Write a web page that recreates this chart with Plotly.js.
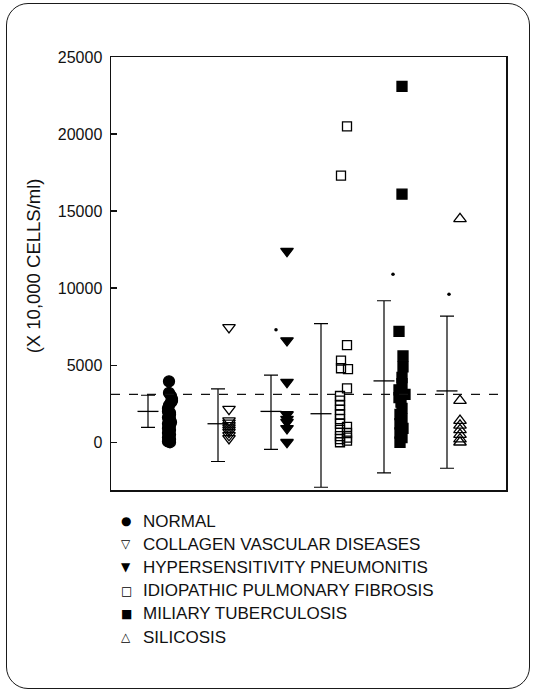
<!DOCTYPE html>
<html>
<head>
<meta charset="utf-8">
<script src="https://cdn.plot.ly/plotly-3.0.1.min.js"></script>
<style>
  html, body { margin: 0; padding: 0; background: #fff; }
  #wrap { position: relative; width: 535px; height: 693px; }
  #chart { position: absolute; left: 0; top: 0; width: 535px; height: 693px; }
  #frame { position: absolute; left: 6px; top: 3px; width: 522px; height: 684px;
           border: 1.6px solid #1a1a1a; border-radius: 22px; pointer-events: none; z-index: 5; }
</style>
</head>
<body>
<div id="wrap">
  <div id="chart"></div>
  <div id="frame"></div>
</div>
<script>
// ---- data (units: x 10,000 cells/ml) ----
const groupNames = ['NORMAL', 'COLLAGEN VASCULAR DISEASES', 'HYPERSENSITIVITY PNEUMONITIS',
                    'IDIOPATHIC PULMONARY FIBROSIS', 'MILIARY TUBERCULOSIS', 'SILICOSIS'];
const legendGlyphs = ['\u25CF', '\u25BD', '\u25BC', '\u25A1', '\u25A0', '\u25B3'];

const normalVals = [3950, 3200, 3000, 2800, 2700, 2600, 2400, 2200, 2000, 1900, 1800, 1700,
                    1600, 1500, 1400, 1300, 1200, 1100, 1000, 900, 800, 700, 600, 500, 400,
                    300, 200, 100, 50, 0];
const collagenVals = [7450, 2150, 1400, 1250, 1100, 950, 800, 650, 450, 250];
const hpVals = [12400, 6600, 3900, 1800, 1500, 1300, 900, 0];
const ipfVals = [20500, 17300, 6300, 5300, 4800, 4750, 3500, 3000, 2700, 2400, 2100, 1800,
                 1500, 1200, 1000, 800, 600, 400, 300, 200, 100, 0];
const mtVals = [23100, 16100, 7200, 5600, 4900, 4200, 3800, 3400, 3100, 2900, 2600, 2200,
                1800, 1500, 1200, 900, 600, 300, 0];
const silicosisVals = [14500, 2700, 1400, 1100, 800, 500, 200, 0];

const groupMeans = [2000, 1200, 2000, 1850, 3980, 3330];
const groupUpper = [3050, 3460, 4350, 7700, 9180, 8180];
const groupLower = [970, -1250, -470, -2920, -1990, -1690];
const groupDots  = [null, null, 7300, null, 10900, 9600];

const referenceLine = 3100;
const yTicks = [0, 5000, 10000, 15000, 20000, 25000];
const yTitle = '(X 10,000 CELLS/ml)';

// ---- layout positions (x axis is an unlabeled position scale) ----
const barPos = [37, 107, 160, 210, 273, 336];
const ptsPos = [58, 118, 176, 232, 291, 349];
const dotPos = [41, 111, 165, 214, 282, 338];
// horizontal scatter of overlapping points (layout only)
const normalJitter = [0, 0, 2, 3, 3, 2, 0, -1, -1, 1, 1, 0, -1, 1, 0, 2, -1, 1, 0, -1, 1, 0, -1, 1, 0, -1, 1, 0, -1, 1];
const ipfJitter = [4, -2, 4, -2, -2, 5, 4, -3, -3, -3, -3, -3, -3, -3, 4, -3, 4, -3, 4, -3, 4, -3];
const mtJitter = [0, 0, -3, 1, 1, 0, 0, -3, 3, -3, -1, 0, -2, 0, -2, 1, -2, 0, -2];
const jitters = [normalJitter, null, null, ipfJitter, mtJitter, null];

const symbols = ['circle', 'triangle-down-open', 'triangle-down', 'square-open', 'square', 'triangle-up-open'];
const sizes = [11, 11, 11, 9, 10, 11];
const seriesVals = [normalVals, collagenVals, hpVals, ipfVals, mtVals, silicosisVals];

// plot-area geometry (pixels)
const M = { l: 111, r: 29, t: 57, b: 203 };
const plotW = 535 - M.l - M.r, plotH = 693 - M.t - M.b;
const legendTop = 521, legendStep = 23.2, legendSymX = 126, legendTextX = 141;

const traces = [];

// mean +/- error bars with a mean tick
traces.push({
  type: 'scatter', mode: 'markers', showlegend: false, hoverinfo: 'skip',
  x: barPos, y: groupMeans,
  marker: { symbol: 'line-ew', size: 15, color: '#000', line: { color: '#000', width: 1.3 } },
  error_y: {
    type: 'data', symmetric: false,
    array: groupUpper.map((u, i) => u - groupMeans[i]),
    arrayminus: groupMeans.map((m, i) => m - groupLower[i]),
    color: '#000', thickness: 1.2, width: 7
  }
});

// small dots
traces.push({
  type: 'scatter', mode: 'markers', showlegend: false, hoverinfo: 'skip',
  x: dotPos.filter((p, i) => groupDots[i] !== null),
  y: groupDots.filter(v => v !== null),
  marker: { symbol: 'circle', size: 3.5, color: '#000' }
});

// data points
seriesVals.forEach((vals, i) => {
  const jit = jitters[i];
  traces.push({
    type: 'scatter', mode: 'markers', name: groupNames[i], showlegend: false,
    x: vals.map((v, k) => ptsPos[i] + (jit ? jit[k] : 0)), y: vals,
    marker: {
      symbol: symbols[i], size: sizes[i], color: '#000',
      line: { color: '#000', width: 1.3 }
    }
  });
});

// legend built from annotations (exact row spacing)
const annotations = [{
  text: yTitle, xref: 'paper', yref: 'paper', x: -0.197, y: 0.517,
  xanchor: 'center', yanchor: 'middle', textangle: -90, showarrow: false,
  font: { size: 18.5, color: '#111' }
}];
groupNames.forEach((name, i) => {
  const py = legendTop + legendStep * i;
  const yp = (693 - M.b - py) / plotH;
  annotations.push({
    text: legendGlyphs[i], xref: 'paper', yref: 'paper',
    x: (legendSymX - M.l) / plotW, y: yp, xanchor: 'center', yanchor: 'middle',
    showarrow: false, font: { family: 'DejaVu Sans, sans-serif', size: 12, color: '#000' }
  });
  annotations.push({
    text: name, xref: 'paper', yref: 'paper',
    x: (legendTextX - M.l) / plotW, y: yp, xanchor: 'left', yanchor: 'middle',
    showarrow: false, font: { size: 17, color: '#111' }
  });
});

const layout = {
  width: 535, height: 693,
  margin: M,
  paper_bgcolor: '#fff', plot_bgcolor: '#fff',
  font: { family: 'Liberation Sans, Arial, sans-serif', color: '#111', size: 16 },
  showlegend: false,
  xaxis: {
    range: [0, 395], showgrid: false, zeroline: false, showticklabels: false, ticks: '',
    showline: true, linecolor: '#111', linewidth: 1.5, mirror: true
  },
  yaxis: {
    range: [-3100, 25000], showgrid: false, zeroline: false,
    tickvals: yTicks, ticktext: yTicks.map(String), ticks: 'inside', ticklen: 6, tickwidth: 1.3,
    tickcolor: '#111', showline: true, linecolor: '#111', linewidth: 1.5, mirror: true,
    tickfont: { size: 16, color: '#111' }, ticklabelstandoff: 4
  },
  annotations: annotations,
  shapes: [{
    type: 'line', xref: 'paper', x0: 0, x1: 1, yref: 'y', y0: referenceLine, y1: referenceLine,
    line: { color: '#111', width: 1.2, dash: 'dash' }
  }]
};

Plotly.newPlot('chart', traces, layout, { staticPlot: true, displayModeBar: false });
</script>
</body>
</html>
